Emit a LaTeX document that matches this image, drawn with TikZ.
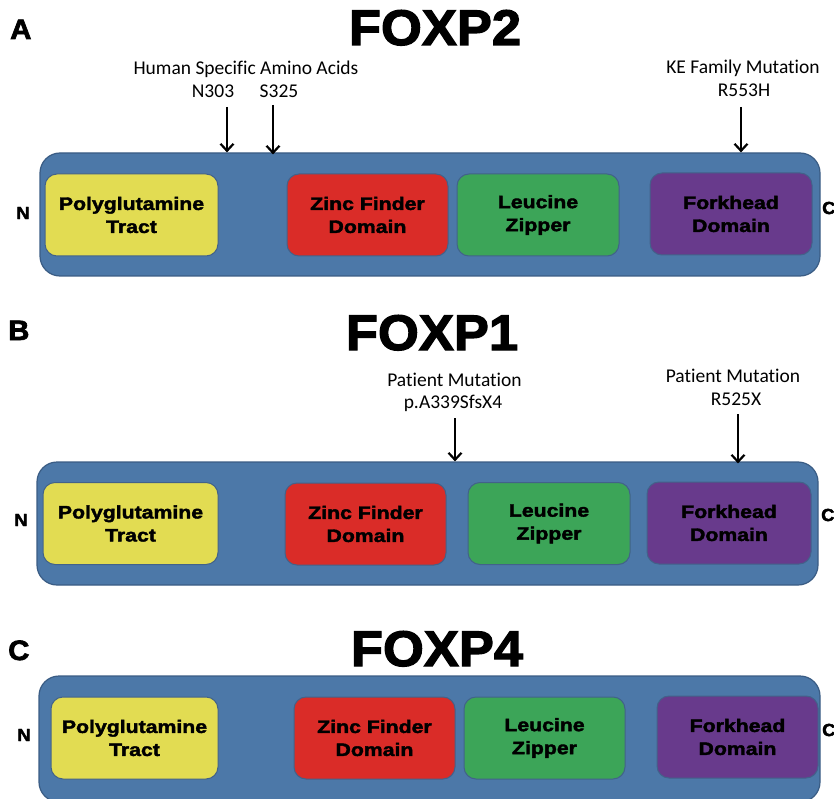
\documentclass[tikz,border=0pt]{standalone}
\usepackage{fontspec}
\setmainfont{Liberation Sans}
\newfontfamily\heavyfamily[FakeBold=2.5,FakeStretch=1.05]{Liberation Sans}
\newfontfamily\domainfamily[FakeBold=2.2,FakeStretch=1.18]{Liberation Sans}
\newfontfamily\notefamily[Ligatures=NoCommon]{Carlito}
\usepackage{xcolor}
\usepackage{tikz}
\usetikzlibrary{arrows.meta}

\definecolor{protblue}{RGB}{76,120,168}
\definecolor{protline}{RGB}{58,92,132}
\definecolor{domline}{RGB}{66,98,138}
\definecolor{polyyellow}{RGB}{226,220,82}
\definecolor{zincred}{RGB}{218,44,40}
\definecolor{leugreen}{RGB}{60,165,88}
\definecolor{forkpurple}{RGB}{104,58,140}

\begin{document}
\begin{tikzpicture}[x=1pt, y=-1pt,
	protein/.style={draw=protline, fill=protblue, line width=1.2pt, rounded corners=20pt, minimum height=123pt, inner sep=0pt},
	domainbox/.style={draw=domline, line width=1pt, rounded corners=12pt, minimum height=82pt, inner sep=0pt, align=center, font=\domainfamily\bfseries\fontsize{18}{23}\selectfont},
	gene/.style={anchor=base, font=\heavyfamily\bfseries\fontsize{50}{50}\selectfont},
	panel/.style={anchor=base west, inner sep=0pt, font=\heavyfamily\bfseries\fontsize{28}{28}\selectfont},
	terminus/.style={inner sep=0pt, font=\heavyfamily\bfseries\fontsize{17.5}{17.5}\selectfont},
	note/.style={anchor=base, font=\notefamily\fontsize{19.5}{23}\selectfont},
	mutation/.style={line width=2.2pt, -{Straight Barb[length=7pt, width=13pt]}}]
	
	\useasboundingbox (0, 0) rectangle (834, 799);
	
	%Panel A
	\node[panel] (labA) at (10, 39) {A};
	\node[gene] (foxptwo) at (435, 45) {FOXP2};
	\node[protein, minimum width=780pt] (protA) at (430, 214.5) {};
	\node[domainbox, fill=polyyellow, minimum width=173pt] (polyA) at (131.5, 215) {Polyglutamine\\Tract};
	\node[domainbox, fill=zincred, minimum width=161pt] (zincA) at (367.5, 215) {Zinc Finder\\Domain};
	\node[domainbox, fill=leugreen, minimum width=162pt] (leuA) at (538, 215) {Leucine\\Zipper};
	\node[domainbox, fill=forkpurple, minimum width=162pt] (forkA) at (731, 214) {Forkhead\\Domain};
	\node[terminus] (nA) at (23, 213) {N};
	\node[terminus, anchor=west] (cA) at (822, 208) {C};
	
	\node[note] (humanA) at (246, 75) {Human Specific Amino Acids};
	\node[note] (nthree) at (213, 98) {N303};
	\node[note] (sthree) at (279, 98) {S325};
	\node[note] (keA) at (743, 74) {KE Family Mutation};
	\node[note] (rfive) at (744, 97) {R553H};
	\coordinate (nthreetop) at (227, 107);
	\coordinate (sthreetop) at (273, 105);
	\coordinate (rfivetop) at (741, 107);
	\draw[mutation] (nthreetop) -- (nthreetop |- protA.north);
	\draw[mutation] (sthreetop) -- ([yshift=-2pt]sthreetop |- protA.north);
	\draw[mutation] (rfivetop) -- (rfivetop |- protA.north);
	
	%Panel B
	\node[panel] (labB) at (8, 340) {B};
	\node[gene] (foxpone) at (432, 350) {FOXP1};
	\node[protein, minimum width=781pt] (protB) at (427.5, 523.5) {};
	\node[domainbox, fill=polyyellow, minimum width=175pt] (polyB) at (130.5, 523.5) {Polyglutamine\\Tract};
	\node[domainbox, fill=zincred, minimum width=161pt] (zincB) at (365.5, 524) {Zinc Finder\\Domain};
	\node[domainbox, fill=leugreen, minimum width=162pt] (leuB) at (549, 523.5) {Leucine\\Zipper};
	\node[domainbox, fill=forkpurple, minimum width=164pt] (forkB) at (729, 523) {Forkhead\\Domain};
	\node[terminus] (nB) at (21, 520) {N};
	\node[terminus, anchor=west] (cB) at (821, 515) {C};
	
	\node[note] (patB) at (454.5, 386) {Patient Mutation};
	\node[note] (pathree) at (453, 408) {p.A339SfsX4};
	\node[note] (patBb) at (733, 382) {Patient Mutation};
	\node[note] (rfivetwo) at (736, 405) {R525X};
	\coordinate (pathreetop) at (455, 418);
	\coordinate (rfivetwotop) at (738, 414);
	\draw[mutation] (pathreetop) -- (pathreetop |- protB.north);
	\draw[mutation] (rfivetwotop) -- ([yshift=-2pt]rfivetwotop |- protB.north);
	
	%Panel C
	\node[panel] (labC) at (8, 660) {C};
	\node[gene] (foxpfour) at (437, 666) {FOXP4};
	\node[protein, minimum width=781pt, minimum height=126pt] (protC) at (429.5, 739) {};
	\node[domainbox, fill=polyyellow, minimum width=167pt] (polyC) at (134.5, 738) {Polyglutamine\\Tract};
	\node[domainbox, fill=zincred, minimum width=161pt] (zincC) at (374.5, 738) {Zinc Finder\\Domain};
	\node[domainbox, fill=leugreen, minimum width=161pt] (leuC) at (544.5, 738) {Leucine\\Zipper};
	\node[domainbox, fill=forkpurple, minimum width=161pt] (forkC) at (737.5, 737) {Forkhead\\Domain};
	\node[terminus] (nC) at (24, 735) {N};
	\node[terminus, anchor=west] (cC) at (822, 730) {C};
\end{tikzpicture}
\end{document}
